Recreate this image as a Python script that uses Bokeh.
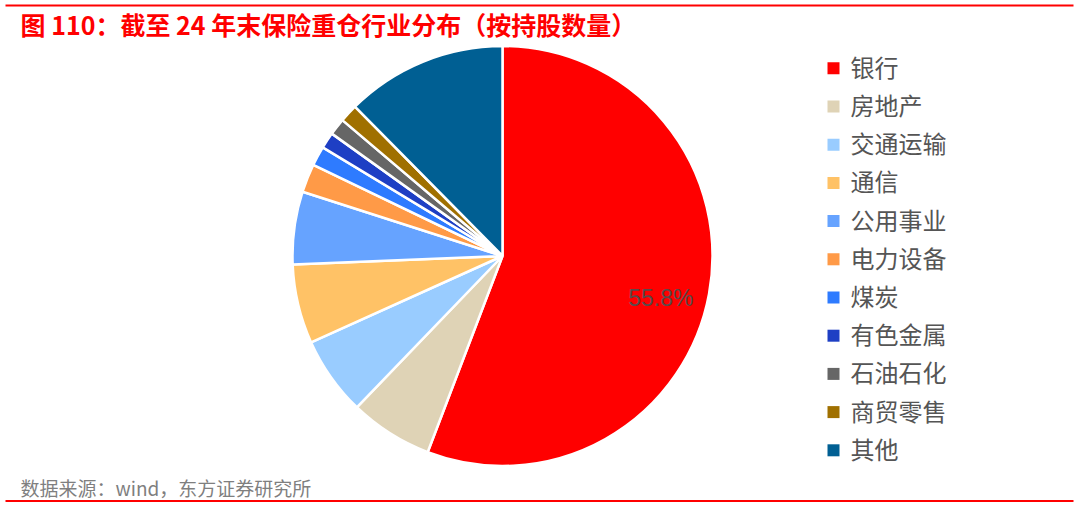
import math
from bokeh.plotting import figure
from bokeh.models import Range1d, ColumnDataSource
from bokeh.core.properties import value
from bokeh.embed import file_html
from bokeh.resources import INLINE

categories = ["银行", "房地产", "交通运输", "通信", "公用事业", "电力设备",
              "煤炭", "有色金属", "石油石化", "商贸零售", "其他"]
shares = [55.8, 6.4, 6.05, 6.1, 5.6, 2.2, 1.5, 1.25, 1.3, 1.4, 12.4]
colors = ["#FF0000", "#DFD3B6", "#99CCFF", "#FFC266", "#66A3FF", "#FF9A47",
          "#2E7BFF", "#1E3FC4", "#666666", "#A07000", "#005F93"]
title_text = "图 110：截至 24 年末保险重仓行业分布（按持股数量）"
source_text = "数据来源：wind，东方证券研究所"

W, H = 1080, 509
FONT = "Noto Sans CJK SC"

def py(page_y):
    return H - page_y

def px(page_x):
    return page_x

p = figure(width=W, height=H, output_backend="svg", toolbar_location=None,
           x_range=Range1d(0, W), y_range=Range1d(0, H), min_border=0)
p.axis.visible = False
p.grid.visible = False
p.outline_line_color = None
p.background_fill_color = "white"
p.border_fill_color = "white"

# pie
cx, cy, R = px(502), py(255.5), 210
total = sum(shares)
starts, ends = [], []
cum = 0.0
for s in shares:
    starts.append(math.pi / 2 - 2 * math.pi * cum / total)
    cum += s
    ends.append(math.pi / 2 - 2 * math.pi * cum / total)
src = ColumnDataSource(dict(start=starts, end=ends, color=colors, cat=categories))
p.wedge(x=cx, y=cy, radius=R, start_angle="start", end_angle="end",
        direction="clock", fill_color="color", line_color="white",
        line_width=2.5, source=src)

# label on the largest slice
mid = (starts[0] + ends[0]) / 2 - math.radians(4.5)
lr = 0.78 * R
p.text(x=[cx + lr * math.cos(mid)], y=[cy + lr * math.sin(mid)],
       text=[f"{shares[0]:.1f}%"], text_font=value("Liberation Sans"),
       text_font_size="23px", text_color="#5A4A4A", text_align="center",
       text_baseline="middle")

# legend
lx = px(833)
ly = [py(67.8 + 38.2 * i) for i in range(len(categories))]
p.scatter(x=[lx] * len(categories), y=ly, marker="square", size=12,
          fill_color=colors, line_color=None)
p.text(x=[px(850)] * len(categories), y=[v + 2 for v in ly], text=categories,
       text_font=value(FONT), text_font_size="24px", text_color="#555555",
       text_align="left", text_baseline="middle")

# title and lines
p.segment(x0=[px(5)], y0=[py(5)], x1=[px(1073)], y1=[py(5)],
          line_color="#FF0000", line_width=2)
p.text(x=[px(20)], y=[py(23)], text=[title_text], text_font=value(FONT),
       text_font_size="25px", text_font_style="bold", text_color="#FF0000",
       text_align="left", text_baseline="middle")
p.text(x=[px(20)], y=[py(487)], text=[source_text], text_font=value(FONT),
       text_font_size="19px", text_color="#7F7F7F",
       text_align="left", text_baseline="middle")
p.segment(x0=[px(5)], y0=[py(500.5)], x1=[px(1073)], y1=[py(500.5)],
          line_color="#FF0000", line_width=2)

open("out.html", "w").write(file_html(p, INLINE))
